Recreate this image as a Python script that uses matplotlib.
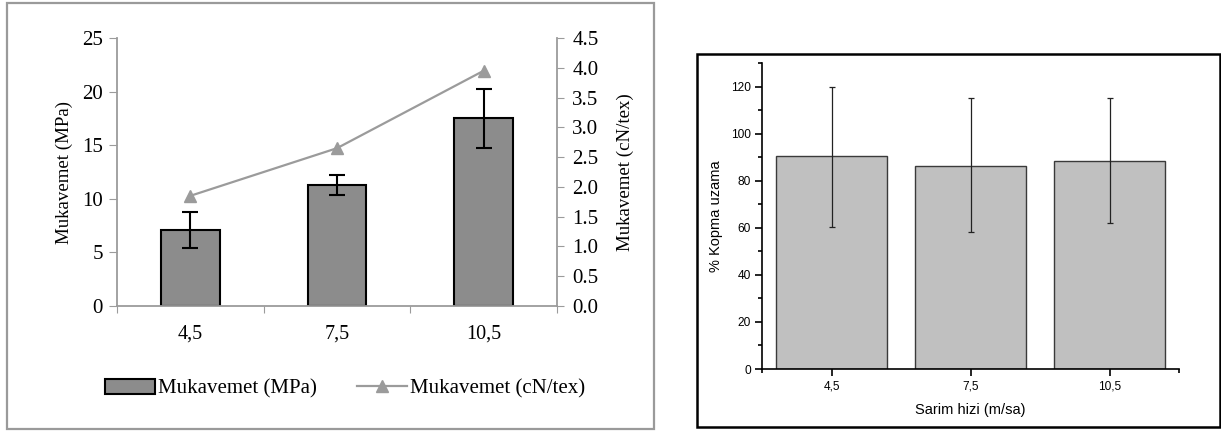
import numpy as np
import matplotlib
matplotlib.use('Agg')
import matplotlib.pyplot as plt
from matplotlib.patches import Rectangle, Patch
from matplotlib.lines import Line2D

# data
speeds = ['4,5', '7,5', '10,5']
mpa = [7.1, 11.3, 17.5]
mpa_err = [1.7, 0.9, 2.75]
cn_tex = [1.85, 2.65, 3.95]
elong = [90.5, 86.2, 88.5]
elong_lo = [30.0, 28.2, 26.5]
elong_hi = [29.5, 28.8, 26.5]

W, H = 1221, 432
fig = plt.figure(figsize=(W / 100, H / 100), dpi=100)

def fbox(x0, y0, x1, y1):
    # pixel box -> figure fraction [left, bottom, width, height]
    return [x0 / W, 1 - y1 / H, (x1 - x0) / W, (y1 - y0) / H]

# panel borders
fig.patches.append(Rectangle((7 / W, 1 - 429 / H), 647 / W, 426 / H, transform=fig.transFigure,
                             fill=False, edgecolor='#9a9a9a', lw=1.6))
fig.patches.append(Rectangle((697 / W, 1 - 427 / H), 523 / W, 373 / H, transform=fig.transFigure,
                             fill=False, edgecolor='black', lw=1.8))

x = np.arange(len(speeds))
gray = '#8c8c8c'
lgray = '#9b9b9b'

# ---- left panel
serif = 'Liberation Serif'
ax1 = fig.add_axes(fbox(117, 38, 557, 306))
ax1.bar(x, mpa, width=0.4, color=gray, edgecolor='black', lw=1.5, zorder=2)
ax1.errorbar(x, mpa, yerr=mpa_err, fmt='none', ecolor='black', elinewidth=1.5,
             capsize=6, capthick=1.5, zorder=3)
ax1.set_xlim(-0.5, 2.5)
ax1.set_ylim(0, 25)
ax1.set_yticks([0, 5, 10, 15, 20, 25])
ax1.set_xticks([-0.5, 0.5, 1.5, 2.5])
ax1.set_xticklabels([])
ax1.set_xticks(x, minor=True)
ax1.set_xticklabels(speeds, minor=True)
ax1.tick_params(axis='x', which='minor', length=0, pad=13)
ax1.tick_params(axis='x', which='major', length=5, color=lgray)
ax1.tick_params(axis='y', length=6, color=lgray, pad=4)
for lab in ax1.get_xticklabels(minor=True):
    lab.set_fontfamily(serif)
    lab.set_fontsize(14.5)
for lab in ax1.get_yticklabels():
    lab.set_fontfamily(serif)
    lab.set_fontsize(15)
for s in ['top', 'right']:
    ax1.spines[s].set_visible(False)
for s in ['left', 'bottom']:
    ax1.spines[s].set_color(lgray)
    ax1.spines[s].set_linewidth(1.3)
ax1.set_ylabel('Mukavemet (MPa)', fontfamily=serif, fontsize=13.6, labelpad=7)

ax1b = ax1.twinx()
ax1b.plot(x, cn_tex, color=lgray, lw=1.6, marker='^', markersize=9, zorder=4)
ax1b.set_ylim(0, 4.5)
ax1b.set_yticks(np.arange(0, 4.51, 0.5))
ax1b.set_yticklabels(['%.1f' % v for v in np.arange(0, 4.51, 0.5)])
ax1b.tick_params(axis='y', length=5, color=lgray, pad=6)
for lab in ax1b.get_yticklabels():
    lab.set_fontfamily(serif)
    lab.set_fontsize(15)
for s in ['top', 'left', 'bottom']:
    ax1b.spines[s].set_visible(False)
ax1b.spines['right'].set_color(lgray)
ax1b.spines['right'].set_linewidth(1.3)
ax1b.set_ylabel('Mukavemet (cN/tex)', fontfamily=serif, fontsize=13.6, labelpad=13)

handles = [Patch(facecolor=gray, edgecolor='black', lw=1.5),
           Line2D([0], [0], color=lgray, lw=1.6, marker='^', markersize=9)]
fig.legend(handles, ['Mukavemet (MPa)', 'Mukavemet (cN/tex)'], ncol=2,
           loc='center', bbox_to_anchor=(345 / W, 1 - 389 / H), frameon=False,
           prop={'family': serif, 'size': 15}, handlelength=2.4, handletextpad=0.15,
           columnspacing=1.9)

# ---- right panel
sans = 'Liberation Sans'
ax2 = fig.add_axes(fbox(762, 63, 1179, 369))
ax2.bar(x, elong, width=0.8, color='#c0c0c0', edgecolor='#3a3a3a', lw=1.0, zorder=2)
ax2.errorbar(x, elong, yerr=[elong_lo, elong_hi], fmt='none', ecolor='#222222',
             elinewidth=0.9, capsize=2.5, capthick=0.9, zorder=3)
ax2.set_xlim(-0.5, 2.5)
ax2.set_ylim(0, 130)
ax2.set_yticks(np.arange(0, 121, 20))
ax2.set_yticks(np.arange(10, 131, 20), minor=True)
ax2.set_xticks(x)
ax2.set_xticklabels(speeds)
ax2.set_xticks([-0.5, 2.5], minor=True)
ax2.tick_params(axis='both', which='major', length=5, width=1.2, labelsize=8.6, pad=3)
ax2.tick_params(axis='both', which='minor', length=3, width=1.2)
for lab in ax2.get_xticklabels() + ax2.get_yticklabels():
    lab.set_fontfamily(sans)
for s in ['top', 'right']:
    ax2.spines[s].set_visible(False)
for s in ['left', 'bottom']:
    ax2.spines[s].set_linewidth(1.2)
ax2.set_ylabel('% Kopma uzama', fontfamily=sans, fontsize=10.5, labelpad=6)
ax2.set_xlabel('Sarim hizi (m/sa)', fontfamily=sans, fontsize=10.5, labelpad=8)

fig.savefig('out.png', dpi=100)
